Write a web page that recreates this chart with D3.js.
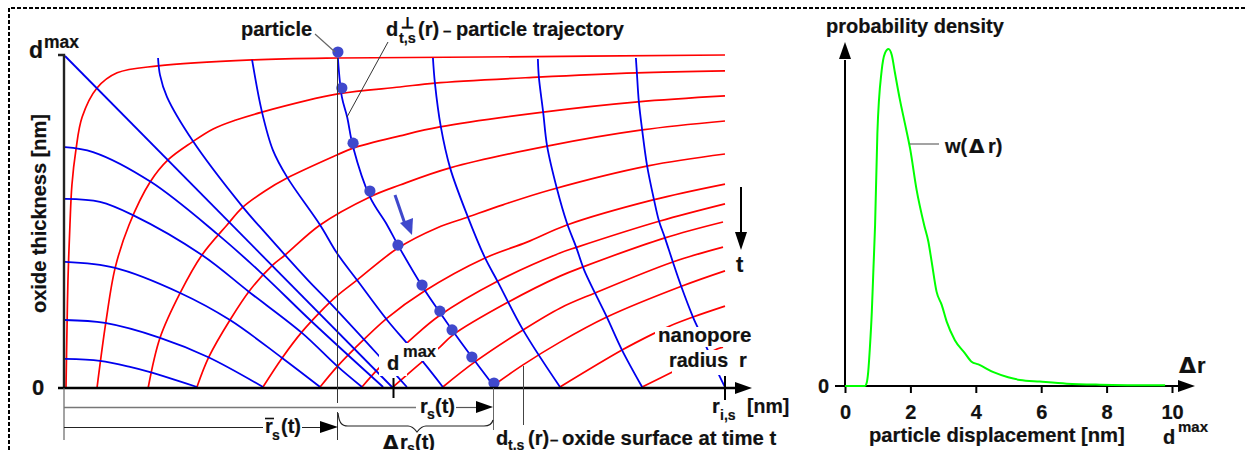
<!DOCTYPE html>
<html><head><meta charset="utf-8">
<style>html,body{margin:0;padding:0;background:#fff;overflow:hidden}svg{display:block}
text{font-family:"Liberation Sans",Arial,sans-serif;font-weight:bold;fill:#111;stroke:#111;stroke-width:.2}</style>
<script src="https://cdn.jsdelivr.net/npm/d3@7"></script></head><body>
<script>
// Left panel, values in nm: [radius r, oxide thickness d]
const surfaces = [
 [[.06,0],[.09,1.76],[.12,3.27],[.18,4.94],[.24,6.15],[.36,7.21],[.55,8.21],[1,9.09],[1.61,9.55],[2.85,9.76],[5.7,9.94],[8.3,10],[12.67,10.03],[20.03,10.09]],
 [[1,0],[1.27,2],[1.55,3.64],[1.97,4.94],[2.61,6.24],[3.15,6.91],[3.88,7.45],[4.52,7.85],[5.21,8.12],[6,8.36],[8.3,8.91],[10.18,9.12],[11.24,9.24],[14.36,9.42],[17.36,9.55],[20.03,9.61]],
 [[2.55,0],[2.91,1.52],[3.52,2.88],[4.18,4.03],[4.94,4.94],[5.42,5.48],[6.09,5.97],[6.76,6.36],[8.27,7.06],[8.76,7.27],[10.18,7.64],[11.39,7.91],[14.52,8.36],[17.39,8.67],[20.03,8.85]],
 [[4.03,.03],[4.39,.94],[5.03,2.06],[5.64,2.97],[6.33,3.73],[6.7,4.03],[7.76,4.94],[9.27,5.79],[10.18,6.15],[11.7,6.67],[14.64,7.33],[17.52,7.82],[20.03,8.09]],
 [[6.03,.03],[6.61,.91],[7.21,1.7],[7.76,2.3],[8.27,2.79],[8.88,3.27],[10.12,4.24],[11.3,4.85],[12.24,5.18],[13.3,5.55],[14.73,6],[17.7,6.73],[20.03,7.09]],
 [[7.76,.03],[8.27,.64],[8.82,1.21],[9.79,2.12],[10.88,2.91],[12.76,3.94],[14.03,4.42],[15.24,4.94],[17.85,5.7],[20.03,6.18]],
 [[9.03,.03],[9.55,.61],[10.42,1.39],[11.36,2.18],[13.15,3.24],[15.03,4.09],[15.55,4.27],[18.06,5.06],[20.03,5.58]],
 [[9.97,.03],[10.85,.79],[11.39,1.24],[11.79,1.61],[13.42,2.58],[15.03,3.39],[15.73,3.67],[18.21,4.55],[19.97,5.03]],
 [[11.48,.03],[12.45,.79],[13.91,1.76],[15.03,2.42],[16.09,2.88],[18.45,3.82],[19.97,4.27]],
 [[13.03,.09],[13.91,.7],[15.03,1.39],[16.45,2.15],[18.73,3.09],[20.03,3.55]],
 [[15.03,.03],[16.91,1.15],[17.85,1.64],[18.36,1.88],[19.06,2.15],[20.03,2.48]],
 [[17.52,.03],[18.42,.48],[19.79,1.18],[19.97,1.24]]
];
const trajectories = [
 [[.03,.88],[1.09,.82],[2,.64],[2.61,.48],[4.03,.03]],
 [[.03,2.06],[1.24,1.97],[2.91,1.52],[4.36,.94],[6.03,.03]],
 [[.03,3.82],[1.55,3.64],[3.52,2.88],[5.03,2.06],[6.61,.91],[7.76,.03]],
 [[.03,5.73],[1.09,5.64],[2.09,5.24],[4.18,4.03],[5.61,2.91],[7.21,1.67],[8.27,.67],[9.03,.03]],
 [[.03,7.3],[.88,7.15],[2.64,6.24],[4.64,4.67],[5.94,3.52],[7.52,2],[9.67,.03]],
 [[.03,10.06],[9.97,0]],
 [[2.85,10],[2.91,9.48],[3.12,8.82],[3.88,7.52],[5.42,5.48],[5.94,4.88],[7.39,3.27],[8.06,2.58],[9.52,1],[10.12,.33],[10.39,.03]],
 [[5.7,9.94],[6,8.36],[6.33,7.21],[6.76,6.39],[7.76,4.94],[8.27,4.09],[8.88,3.27],[9.79,2.06],[10.39,1.36],[10.88,.79],[11.48,.03]],
 [[8.3,10],[8.42,8.82],[8.58,8.21],[8.76,7.3],[9.27,5.79],[9.79,4.94],[10.12,4.33],[10.85,3.09],[11.36,2.33],[11.76,1.76],[12.36,.94],[13,.09]],
 [[11.18,10],[11.24,9.24],[11.42,7.91],[11.7,6.67],[12.24,5.18],[12.76,3.94],[13.15,3.21],[13.91,1.76],[15.03,.03]],
 [[14.36,9.97],[14.39,9.42],[14.52,8.36],[14.64,7.33],[14.94,6.03],[15.24,5],[15.52,4.27],[15.76,3.58],[16.09,2.88],[16.45,2.15],[16.91,1.15],[17.52,.03]],
 [[17.33,10],[17.36,9.55],[17.42,8.67],[17.52,7.82],[17.67,6.73],[17.88,5.7],[18.03,5.06],[18.21,4.55],[18.45,3.82],[18.7,3.09],[19.06,2.15],[19.18,1.88],[19.88,.33],[20.03,.03]]
];
const particleR = [8.30,8.42,8.76,9.27,10.12,10.85,11.39,11.76,12.36,13.03];
const particleD = [10.18,9.09,7.42,5.97,4.33,3.12,2.33,1.76,.94,.15];
// Right panel
const displacement = [0,.61,.66,.71,.76,.82,.87,.92,.99,1.12,1.22,1.33,1.43,1.53,1.68,1.83,1.99,2.19,2.42,2.55,2.65,2.8,2.96,3.11,3.36,3.67,3.87,4.08,4.54,4.99,5.35,5.96,6.78,7.8,9.79];
const density = [0,0,.008,.042,.112,.22,.349,.478,.75,.935,.987,1,.982,.928,.849,.78,.705,.582,.478,.428,.369,.28,.24,.191,.136,.097,.072,.064,.041,.026,.018,.013,.007,.004,.002];
const xTicks = [0,2,4,6,8,10];

const W=1245,H=450;
const svg=d3.select("body").append("svg").attr("width",W).attr("height",H);
const x=d3.scaleLinear().domain([0,20]).range([64,724]);
const y=d3.scaleLinear().domain([0,10.06]).range([388,56]);
const x2=d3.scaleLinear().domain([0,10]).range([845,1172]);
const y2=d3.scaleLinear().domain([0,1]).range([386,49]);

function line(p,stroke,w,dash){const s=svg.append("path").attr("d",d3.line()(p)).attr("fill","none").attr("stroke",stroke).attr("stroke-width",w);if(dash)s.attr("stroke-dasharray",dash);return s;}
function poly(p,fill){svg.append("polygon").attr("points",p.join(" ")).attr("fill",fill||"#000");}
function txt(px,py,str,size,anchor){
  return svg.append("text").attr("x",px).attr("y",py).attr("font-size",size).attr("text-anchor",anchor||"start").text(str);
}
function delta(px,py,size){
  return txt(px,py,"Δ",size).style("font-family",'"DejaVu Sans"');
}
// frame
line([[9,450],[9,8],[1245,8]],"#000",2,"4,2");

const gen=d3.line().x(d=>x(d[0])).y(d=>y(d[1])).curve(d3.curveCatmullRom.alpha(.5));
svg.append("g").selectAll("path").data(surfaces).join("path").attr("d",gen).attr("fill","none").attr("stroke","#ff0000").attr("stroke-width",1.7);
svg.append("g").selectAll("path").data(trajectories).join("path").attr("d",gen).attr("fill","none").attr("stroke","#0000ee").attr("stroke-width",1.8);
// label backgrounds that interrupt the curves
[[379,343,28,33],[407,343,31,18],[655,327,100,20],[672,350,83,25]].forEach(r=>svg.append("rect").attr("x",r[0]).attr("y",r[1]).attr("width",r[2]).attr("height",r[3]).attr("fill","#fff"));
// particles
svg.append("g").selectAll("circle").data(particleR).join("circle").attr("cx",d=>x(d)).attr("cy",(d,i)=>y(particleD[i])).attr("r",5.6).attr("fill","#3f48cc");
// blue direction arrow
line([[395,195],[405,224]],"#3f48cc",3);
poly([[400,223],[413,218],[412,235]],"#3f48cc");
// axes left
line([[64,388],[64,55],[58,55]],"#222",2.4);
line([[58,388],[735,388]],"#000",2.4);
poly([[735,382],[752,388],[735,394]]);
line([[393.5,378],[393.5,398]],"#000",2);
line([[725,376],[725,400]],"#000",2);
// guide lines
line([[64,388],[64,440]],"#666",1.2);
line([[337.5,58],[337.5,403]],"#333",1);
line([[337.5,412],[337.5,440]],"#333",1);
line([[493.5,388],[493.5,430]],"#666",1);
line([[523.5,366],[523.5,425]],"#444",1);
line([[64,407.5],[416,407.5]],"#777",1.4);
line([[456,407.5],[476,407.5]],"#555",1.2);
poly([[476,401],[493,407],[476,413]]);
line([[64,427.5],[263,427.5]],"#222",1);
line([[302,427.5],[320,427.5]],"#222",1);
poly([[320,421],[338,427],[320,433]]);
svg.append("path").attr("d","M338,413 C339,422 341,426 348,426 L408,426 C412,426 414,428 417,432 C420,428 422,426 426,426 L484,426 C490,426 492,424 493,420").attr("fill","none").attr("stroke","#222").attr("stroke-width",1.2);
// leaders
line([[315,34],[335,52]],"#666",1.2);
line([[388,42],[347,117]],"#333",1);
// time arrow
line([[741,187],[741,234]],"#000",2);
poly([[735,232],[747,232],[741,250]]);
// left labels
txt(29,58,"d",23);txt(44,48,"max",17.5);
txt(32,395,"0",22);
txt(241,36,"particle",20);
txt(386,36,"d",20);
txt(401,28,"⊥",15);
txt(399,43,"t,s",14.5);
txt(418,36,"(r)",20);txt(443,36,"–",15);txt(456,36,"particle trajectory",20);
txt(46,213.5,"oxide thickness [nm]",20,"middle").attr("transform","rotate(-90 46 213.5)");
txt(387,370,"d",20);txt(403,357,"max",16.5);
txt(658,342,"nanopore",20.5);
txt(669,367,"radius",19.7);txt(739,367,"r",20);
txt(736,272,"t",22);
txt(712,413,"r",20);txt(720,420,"i,s",14);txt(747,413,"[nm]",19.5);
txt(420,413,"r",20);txt(427,419,"s",14);txt(435,413,"(t)",20);
txt(265,433,"r",20);txt(272,440,"s",14);txt(281,433,"(t)",20);
line([[265,418.5],[274,418.5]],"#111",1.6);
delta(383,449,20);txt(400,449,"r",20);txt(407,453,"s",14);txt(415,449,"(t)",20);
txt(496,445,"d",20);txt(508,450,"t,s",14);txt(528,445,"(r)",20);txt(550,445,"–",15);txt(562,445,"oxide surface at time t",20.3);

// right panel
line([[845,60],[845,386]],"#000",2);
poly([[839,59],[845,42],[851,59]]);
const ax=d3.axisBottom(x2).tickValues(xTicks).tickSize(7).tickPadding(12).tickFormat(d3.format("d"));
const gx=svg.append("g").attr("transform","translate(0,386)").call(ax);
gx.select(".domain").remove();
gx.selectAll("line").attr("stroke","#000").attr("stroke-width",2);
gx.selectAll("text").attr("font-size",20).attr("font-family",null).attr("fill","#111");
line([[835,386],[1178,386]],"#000",2);
poly([[1178,380],[1195,386],[1178,392]]);
svg.append("path").datum(displacement.map((d,i)=>[d,density[i]])).attr("d",d3.line().x(d=>x2(d[0])).y(d=>y2(d[1])).curve(d3.curveMonotoneX)).attr("fill","none").attr("stroke","#00ff00").attr("stroke-width",2);
line([[910,144],[939,144]],"#666",1.2);
txt(818,393,"0",20);
txt(826,33,"probability density",20);
txt(945,153,"w(",20);delta(969,153,20);txt(988,153,"r)",20);
delta(1179,373,22);txt(1197,373,"r",22);
txt(869,442,"particle displacement [nm]",20.2);
txt(1163,444,"d",20);txt(1178,432,"max",15);
</script></body></html>
